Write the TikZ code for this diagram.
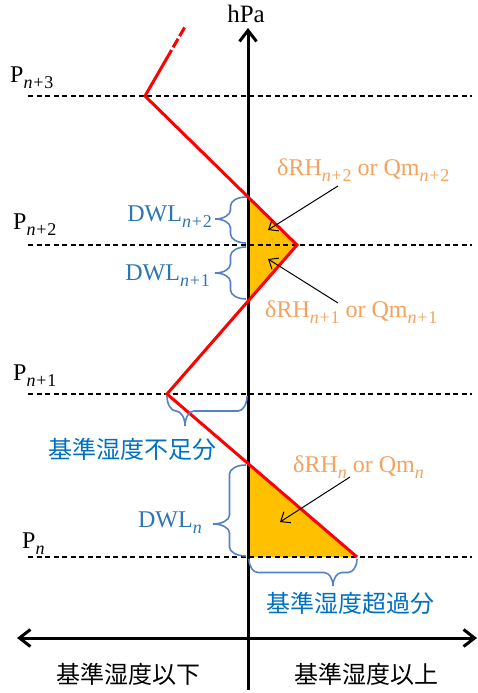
\documentclass[tikz,border=0pt]{standalone}
\usepackage{fontspec}
\setmainfont{Liberation Serif}
\newfontfamily\cjk{Noto Sans CJK JP}
\usetikzlibrary{arrows.meta}

% lowered index set in the text face, e.g. \lvl{+2}
\newcommand\lvl[1]{\raisebox{-6.5pt}{\fontsize{18}{20}\selectfont\textit{n}#1}}
\newcommand\plus{\kern0.8pt+\kern0.8pt}

\definecolor{lineRed}{RGB}{255,0,0}
\definecolor{fillGold}{RGB}{255,192,0}
\definecolor{labelBlue}{RGB}{0,112,192}
\definecolor{dwlBlue}{RGB}{46,117,182}
\definecolor{braceBlue}{RGB}{84,130,196}
\definecolor{noteOrange}{RGB}{244,162,92}

% Curly brace opening to the right, tip pointing left.
% #1 x of the ends, #2 top y, #3 bottom y, #4 tip y, #5 depth
\newcommand\BraceLeft[5]{%
  \pgfmathsetmacro\bxm{#1-#5/2}%
  \pgfmathsetmacro\bxt{#1-#5}%
  \pgfmathsetmacro\br{min(9,(#3-#2)/4)}%
  \pgfmathsetmacro\bca{#1-0.552*#5/2}%
  \pgfmathsetmacro\bcb{#1-#5+0.552*#5/2}%
  \pgfmathsetmacro\bya{#2+0.448*\br}%
  \pgfmathsetmacro\byb{#2+\br}%
  \pgfmathsetmacro\byc{#4-\br}%
  \pgfmathsetmacro\byd{#4-0.448*\br}%
  \pgfmathsetmacro\bye{#4+0.448*\br}%
  \pgfmathsetmacro\byf{#4+\br}%
  \pgfmathsetmacro\byg{#3-\br}%
  \pgfmathsetmacro\byh{#3-0.448*\br}%
  \draw[bracestroke] (#1,#2) .. controls (\bca,#2) and (\bxm,\bya) .. (\bxm,\byb)
    -- (\bxm,\byc) .. controls (\bxm,\byd) and (\bcb,#4) .. (\bxt,#4)
    .. controls (\bcb,#4) and (\bxm,\bye) .. (\bxm,\byf)
    -- (\bxm,\byg) .. controls (\bxm,\byh) and (\bca,#3) .. (#1,#3);%
}
% Curly brace opening upwards, tip pointing down.
% #1 y of the ends, #2 left x, #3 right x, #4 tip x, #5 depth
\newcommand\BraceDown[5]{%
  \pgfmathsetmacro\bym{#1+#5/2}%
  \pgfmathsetmacro\byt{#1+#5}%
  \pgfmathsetmacro\br{min(9,(#3-#2)/4)}%
  \pgfmathsetmacro\bca{#1+0.552*#5/2}%
  \pgfmathsetmacro\bcb{#1+#5-0.552*#5/2}%
  \pgfmathsetmacro\bxa{#2+0.448*\br}%
  \pgfmathsetmacro\bxb{#2+\br}%
  \pgfmathsetmacro\bxc{#4-\br}%
  \pgfmathsetmacro\bxd{#4-0.448*\br}%
  \pgfmathsetmacro\bxe{#4+0.448*\br}%
  \pgfmathsetmacro\bxf{#4+\br}%
  \pgfmathsetmacro\bxg{#3-\br}%
  \pgfmathsetmacro\bxh{#3-0.448*\br}%
  \draw[bracestroke] (#2,#1) .. controls (#2,\bca) and (\bxa,\bym) .. (\bxb,\bym)
    -- (\bxc,\bym) .. controls (\bxd,\bym) and (#4,\bcb) .. (#4,\byt)
    .. controls (#4,\bcb) and (\bxe,\bym) .. (\bxf,\bym)
    -- (\bxg,\bym) .. controls (\bxh,\bym) and (#3,\bca) .. (#3,#1);%
}

\begin{document}
\begin{tikzpicture}[x=1pt,y=-1pt,
  level/.style={black,line width=1.3pt,dash pattern=on 5pt off 3.5pt},
  axis/.style={black,line width=3pt,-{Straight Barb[length=11pt,width=17pt]}},
  profile/.style={lineRed,line width=3pt},
  bracestroke/.style={braceBlue,line width=1.6pt},
  pointer/.style={black,line width=1pt,-{Straight Barb[length=8pt,width=13pt]}},
  plabel/.style={inner sep=0pt,font=\fontsize{24}{28}\selectfont},
  dwl/.style={inner sep=0pt,text=dwlBlue,font=\fontsize{24}{28}\selectfont},
  note/.style={inner sep=0pt,text=noteOrange,font=\fontsize{24}{28}\selectfont},
  region/.style={inner sep=0pt,text=labelBlue,font=\cjk\fontsize{24}{28}\selectfont},
  side/.style={inner sep=0pt,text=black,font=\cjk\fontsize{24}{28}\selectfont}]

\useasboundingbox (0,0) rectangle (478,693);

% humidity profile vertices
\coordinate (r0) at (186,25);
\coordinate (r1) at (171.6,50);
\coordinate (r2) at (145,96);
\coordinate (r3) at (297,245);
\coordinate (r4) at (167,394);
\coordinate (r5) at (357,557);
% crossings with the pressure axis
\coordinate (c1) at (248,197);
\coordinate (c2) at (248,301.2);
\coordinate (c3) at (248,463.5);
\coordinate (c4) at (248,557);

% excess areas
\fill[fillGold] (c1) -- (r3) -- (c2) -- cycle;
\fill[fillGold] (c3) -- (r5) -- (c4) -- cycle;

% pressure levels
\foreach \yy/\nm in {96/l3,245/l2,394/l1,557/l0}{
  \coordinate (\nm a) at (28,\yy);
  \coordinate (\nm b) at (472,\yy);
  \draw[level] (\nm a) -- (\nm b);
}

% axes
\coordinate (vb) at (248,690);
\coordinate (vt) at (248,28);
\coordinate (hl) at (17,638);
\coordinate (hr) at (477,638);
\draw[axis] (vb) -- (vt);
\draw[axis,{Straight Barb[length=11pt,width=17pt]}-{Straight Barb[length=11pt,width=17pt]}] (hl) -- (hr);

% profile
\draw[profile] (r1) -- (r2) -- (r3) -- (r4) -- (r5);
\draw[profile,dash pattern=on 10pt off 3pt,dash phase=-3pt] (r1) -- (r0);

% braces
\BraceLeft{246}{197}{243}{219}{31}
\BraceLeft{246}{247}{299}{273}{31}
\BraceLeft{246}{465}{556}{524}{33}
\BraceDown{396}{167}{247}{185}{30}
\BraceDown{559}{249}{357}{333}{27}

% labels
\node[plabel,anchor=base,font=\fontsize{25}{30}\selectfont] (hpa) at (246,23) {hPa};
\node[plabel,anchor=base west] (p3) at (10,82) {P\lvl{\plus3}};
\node[plabel,anchor=base west] (p2) at (13,229) {P\lvl{\plus2}};
\node[plabel,anchor=base west] (p1) at (13,380) {P\lvl{\plus1}};
\node[plabel,anchor=base west] (p0) at (22,548) {P\lvl{}};

\node[dwl,anchor=base east] (d2) at (212,221) {DWL\lvl{\plus2}};
\node[dwl,anchor=base east] (d1) at (210,280) {DWL\lvl{\plus1}};
\node[dwl,anchor=base east] (d0) at (202,527) {DWL\lvl{}};

\node[note,anchor=base west] (q2) at (277,175) {δRH\lvl{\plus2} or Qm\lvl{\plus2}};
\node[note,anchor=base west] (q1) at (265,317) {δRH\lvl{\plus1} or Qm\lvl{\plus1}};
\node[note,anchor=base west] (q0) at (293,472) {δRH\lvl{} or Qm\lvl{}};

\node[region] (lack) at (132,449) {基準湿度不足分};
\node[region] (over) at (350,603) {基準湿度超過分};
\node[side] (below) at (128,674) {基準湿度以下};
\node[side] (above) at (366,674) {基準湿度以上};

% pointers to the shaded areas
\coordinate (a2s) at (338,186);
\coordinate (a2e) at (268,230);
\coordinate (a1s) at (338,303);
\coordinate (a1e) at (268,259);
\coordinate (a0s) at (350,477);
\coordinate (a0e) at (280,522);
\draw[pointer] (a2s) -- (a2e);
\draw[pointer] (a1s) -- (a1e);
\draw[pointer] (a0s) -- (a0e);

\end{tikzpicture}
\end{document}
